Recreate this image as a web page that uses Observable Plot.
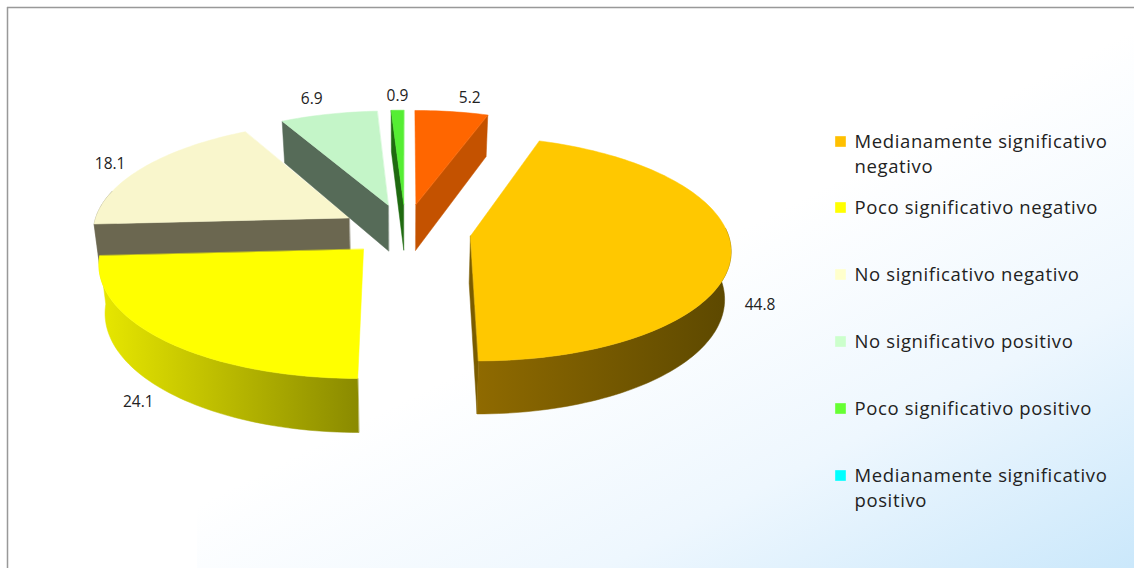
<!DOCTYPE html>
<html><head><meta charset="utf-8">
<style>html,body{margin:0;padding:0;background:#fff}svg{display:block}.lg{letter-spacing:.62px}</style>
<script src="https://cdn.jsdelivr.net/npm/d3@7"></script>
<script src="https://cdn.jsdelivr.net/npm/@observablehq/plot@0.6"></script>
</head><body><div id="chart"></div>
<script>
// Data: slice order clockwise from the top
const sliceIds = ["r","m","p","n","s","g"];
const sliceValues = [5.2, 44.8, 24.1, 18.1, 6.9, 0.9];
const sliceTop = ["#ff6600","#ffc800","#ffff00","#f9f6cc","#c4f5c8","#55ee33"];
const sliceCut = ["#c45200","#7a5c00","#8a8a00","#6b6750","#566b58","#1f6a10"];
const rimLight = ["#d05500","#8f6a00","#e8e800","#8a8870","#66806a","#2a7a1a"];
const rimDark = ["#c04c00","#5c4800","#8a8a00","#6b6750","#566b58","#1f6a10"];
const paintOrder = [3,4,5,0,1,2];
const visibleCutEnd = ["a1","a1x","","a0","a0","a0"];
const nudgeX = [0,0,4,0,0,0];
const nudgeY = [0,0,-3,0,0,0];
const labelDx = [18,29,-25,-32,-17,0];
const labelDy = [-14,51,62,-4,-15,-14];

const legendLabels = ["Medianamente significativo\nnegativo","Poco significativo negativo","No significativo negativo","No significativo positivo","Poco significativo positivo","Medianamente significativo\npositivo"];
const legendColors = ["#ffc000","#ffff00","#ffffcc","#ccffcc","#66ff33","#00ffff"];
const legendY = [141,207,274,341,408,475];

// 3D layout
const cx = 405, cy = 231, rx = 257, ry = 110, persp = 0.11, depth = 47, explode = 0.255, shrink = 0.98;
const rimFrom = 86*Math.PI/180, rimTo = 285*Math.PI/180;

const total = d3.sum(sliceValues);
let acc = 0;
const slices = sliceValues.map((v,i)=>{
  const a0 = acc/total*2*Math.PI; acc += v; const a1 = acc/total*2*Math.PI;
  return {i, v, a0, a1, mid:(a0+a1)/2};
});
function proj(s, r, a, low){
  const X = explode*Math.sin(s.mid) + r*Math.sin(a);
  const Z = explode*Math.cos(s.mid) + r*Math.cos(a);
  const w = 1 + persp*Z;
  let x = cx + rx*X/w + nudgeX[s.i];
  let y = cy - ry*Z/w + nudgeY[s.i];
  if (low){ x = cx + (x-cx)*shrink; y += depth/w; }
  return {x,y};
}
function arc(s, low, rev, from=s.a0, to=s.a1){
  const n = Math.max(4, Math.ceil((to-from)*40));
  const pts = d3.range(n+1).map(k=>proj(s,1,from+(to-from)*k/n,low));
  return rev ? pts.reverse() : pts;
}
const shape = (pts, fill) => Plot.line(pts,{x:"x",y:"y",fill,stroke:fill,strokeWidth:0.5,curve:"linear-closed"});

const defs = () => {
  const d = d3.create("svg:defs");
  const bg = d.append("linearGradient").attr("id","bg").attr("gradientUnits","userSpaceOnUse")
    .attr("x1",1134).attr("y1",30).attr("x2",1350).attr("y2",456);
  bg.append("stop").attr("offset",0).attr("stop-color","#ffffff");
  bg.append("stop").attr("offset",0.5).attr("stop-color","#eef7fe");
  bg.append("stop").attr("offset",1).attr("stop-color","#cbe8fb");
  slices.forEach(s=>{
    const g = d.append("linearGradient").attr("id","rim"+sliceIds[s.i]);
    g.append("stop").attr("offset",0).attr("stop-color",rimLight[s.i]);
    g.append("stop").attr("offset",1).attr("stop-color",rimDark[s.i]);
  });
  return d.node();
};

const sliceMarks = paintOrder.flatMap(i=>{
  const s = slices[i];
  const apexT = proj(s,0,0,false), apexB = proj(s,0,0,true);
  const face = (a) => [apexT,proj(s,1,a,false),proj(s,1,a,true),apexB];
  const marks = [];
  if (visibleCutEnd[i]==="a1x") marks.push(shape(face(s.a1), sliceCut[i]));
  const from = Math.max(s.a0,rimFrom), to = Math.min(s.a1,rimTo);
  if (to>from) marks.push(shape([...arc(s,false,false,from,to),...arc(s,true,true,from,to)], `url(#rim${sliceIds[i]})`));
  if (visibleCutEnd[i]==="a0") marks.push(shape(face(s.a0), sliceCut[i]));
  if (visibleCutEnd[i]==="a1") marks.push(shape(face(s.a1), sliceCut[i]));
  marks.push(shape([apexT,...arc(s,false,false)], sliceTop[i]));
  return marks;
});

const labelRows = slices.map(s=>{
  const p = proj(s,1,s.mid,false);
  return {x:p.x+labelDx[s.i], y:p.y+labelDy[s.i], t:String(s.v)};
});
const legendRows = legendLabels.map((t,i)=>({t,c:legendColors[i],y:legendY[i]}));

const fontFamily = "Open Sans";
const chart = Plot.plot({
  width:1134, height:568, margin:0,
  x:{domain:[0,1134],range:[0,1134],axis:null},
  y:{domain:[0,568],range:[0,568],axis:null},
  style:{background:"#fff",fontFamily},
  marks:[
    defs,
    Plot.rect([0],{x1:197,x2:1134,y1:8,y2:568,fill:"url(#bg)"}),
    Plot.ruleY([7],{x1:7,x2:1134,stroke:"#999",strokeWidth:1.5}),
    Plot.ruleX([7],{y1:7,y2:568,stroke:"#999",strokeWidth:1.5}),
    ...sliceMarks,
    Plot.text(labelRows,{x:"x",y:"y",text:"t",fontSize:15.5,fill:"#222",fontFamily}),
    Plot.dot(legendRows,{x:()=>840,y:"y",fill:"c",stroke:"none",symbol:"square",r:6}),
    Plot.text(legendRows,{x:()=>854,y:"y",text:"t",textAnchor:"start",lineAnchor:"top",dy:-11,fontSize:18.5,lineHeight:1.35,fill:"#222",fontFamily,className:"lg"})
  ]
});
document.getElementById("chart").append(chart);
</script></body></html>
